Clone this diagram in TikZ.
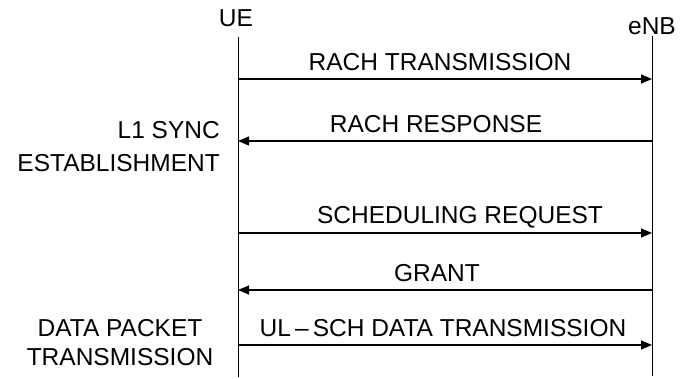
\documentclass[tikz,border=0pt]{standalone}
\usepackage{fontspec}
\setmainfont{Liberation Sans}
\usepackage{tikz}
\usetikzlibrary{arrows.meta,positioning}
\tikzset{
  msg/.style={-{Triangle[length=11pt,width=9pt]},line width=1.2pt},
  life/.style={line width=0.9pt},
  lbl/.style={font=\fontsize{24.5}{31}\selectfont,inner sep=0pt}
}
\begin{document}
\begin{tikzpicture}[x=1pt,y=-1pt]
\useasboundingbox (0,0) rectangle (690,379);
% lifelines
\node[lbl] (ue) at (236,18) {UE};
\node[lbl] (enb) at (652,26) {eNB};
\coordinate (ueTop) at (238,37); \coordinate (ueEnd) at (238,377);
\coordinate (enbTop) at (652,36); \coordinate (enbEnd) at (652,376);
\draw[life] (ueTop)--(ueEnd);
\draw[life] (enbTop)--(enbEnd);
\coordinate (ue1) at (238,79);  \coordinate (enb1) at (652,79);
\coordinate (ue2) at (238,141); \coordinate (enb2) at (652,141);
\coordinate (ue3) at (238,233); \coordinate (enb3) at (652,233);
\coordinate (ue4) at (238,290); \coordinate (enb4) at (652,290);
\coordinate (ue5) at (238,345); \coordinate (enb5) at (652,345);
% messages
\draw[msg] (ue1)--(enb1);
\draw[msg] (enb2)--(ue2);
\draw[msg] (ue3)--(enb3);
\draw[msg] (enb4)--(ue4);
\draw[msg] (ue5)--(enb5);
\node[lbl] (rachtx) at (440,62) {RACH TRANSMISSION};
\node[lbl] (rachrsp) at (436,124) {RACH RESPONSE};
\node[lbl] (schreq) at (460,217) {SCHEDULING REQUEST};
\node[lbl] (grant) at (437,273) {GRANT};
\node[lbl] (ulsch) at (443,328) {UL\,–\,SCH DATA TRANSMISSION};
% phases
\node[lbl,align=right,anchor=east,font=\fontsize{24.5}{33}\selectfont] (sync) at (220,146.5) {L1 SYNC\\ESTABLISHMENT};
\node[lbl,align=center,font=\fontsize{24.5}{29}\selectfont] (datapkt) at (120,342.5) {DATA PACKET\\TRANSMISSION};
\end{tikzpicture}
\end{document}
